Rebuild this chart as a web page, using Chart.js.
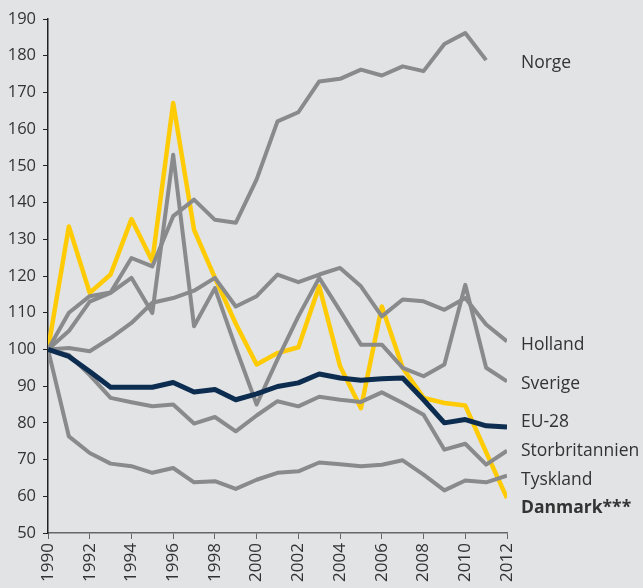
<!DOCTYPE html>
<html>
<head>
<meta charset="utf-8">
<script src="https://cdn.jsdelivr.net/npm/chart.js@4"></script>
<style>
  html, body { margin: 0; padding: 0; background: #e1e3e5; }
  #wrap { width: 643px; height: 588px; }
</style>
</head>
<body>
<div id="wrap"><canvas id="chart" width="643" height="588"></canvas></div>
<script>
const years = [1990, 1991, 1992, 1993, 1994, 1995, 1996, 1997, 1998, 1999, 2000, 2001,
               2002, 2003, 2004, 2005, 2006, 2007, 2008, 2009, 2010, 2011, 2012];

const norge = [100, 110, 114.5, 115.5, 124.9, 122.6, 136.3, 140.8, 135.3, 134.5, 146.3, 162.1,
               164.6, 173, 173.7, 176.2, 174.6, 177.1, 175.8, 183.2, 186.2, 178.8];
const holland = [100, 100.4, 99.5, 103.1, 107.2, 112.7, 114, 116, 119.5, 111.7, 114.5, 120.4,
                 118.3, 120.4, 122.2, 117.2, 109, 113.6, 113.1, 110.8, 114, 106.8, 102.2];
const sverige = [100, 105, 113, 115.4, 119.5, 109.9, 153, 106.3, 116.7, 100.5, 85, 97.3,
                 109, 119.5, 110.5, 101.3, 101.3, 95, 92.7, 95.9, 117.6, 95, 91.3];
const eu28 = [100, 98.1, 94, 89.7, 89.7, 89.7, 91, 88.4, 89.1, 86.3, 87.9, 89.9,
              90.9, 93.3, 92.2, 91.6, 92, 92.2, 86.3, 80, 80.9, 79.2, 78.9];
const storbritannien = [100, 98.5, 93, 86.8, 85.6, 84.5, 85, 79.8, 81.6, 77.7, 82, 85.9,
                        84.5, 87.1, 86.3, 85.7, 88.3, 85.4, 82.2, 72.7, 74.3, 68.6, 72.4];
const tyskland = [100, 76.3, 71.8, 68.9, 68.2, 66.4, 67.7, 63.8, 64.1, 62, 64.5, 66.4,
                  66.8, 69.2, 68.7, 68.2, 68.6, 69.8, 65.9, 61.6, 64.3, 63.8, 65.6];
const danmark = [100, 133.5, 115.4, 120.4, 135.5, 124, 167.1, 132.6, 119.5, 107, 95.9, 99,
                 100.6, 117.2, 95.4, 84, 111.7, 95, 86.8, 85.4, 84.7, 72, 59.5];

// right-hand labels and the value where each sits on the y axis
const seriesLabels = ['Norge', 'Holland', 'Sverige', 'EU-28', 'Storbritannien', 'Tyskland', 'Danmark***'];
const labelValues = [178.1, 101.3, 90.7, 80.3, 72.2, 64.5, 56.9];

const GREY = '#898a8c';
const YELLOW = '#ffcb05';
const NAVY = '#0c2d50';
const FONT = '"Open Sans", "Noto Sans", sans-serif';

function points(vals) {
    return vals.map((v, i) => ({ x: years[i], y: v }));
}

function line(label, vals, color, width, order) {
    return {
        label: label,
        data: points(vals),
        borderColor: color,
        backgroundColor: color,
        borderWidth: width,
        borderJoinStyle: 'round',
        pointRadius: 0,
        tension: 0,
        fill: false,
        order: order
    };
}

const bgPlugin = {
    id: 'bg',
    beforeDraw(chart) {
        const c = chart.ctx;
        c.save();
        c.fillStyle = '#e1e3e5';
        c.fillRect(0, 0, chart.width, chart.height);
        c.restore();
    }
};

const labelPlugin = {
    id: 'endLabels',
    afterDatasetsDraw(chart) {
        const c = chart.ctx;
        const yScale = chart.scales.y;
        const x = chart.chartArea.right + 14;
        c.save();
        c.textBaseline = 'middle';
        c.textAlign = 'left';
        c.fillStyle = '#333';
        seriesLabels.forEach((txt, i) => {
            const bold = txt.startsWith('Danmark');
            c.font = (bold ? 'bold ' : '') + '17.5px ' + FONT;
            c.fillText(txt, x, yScale.getPixelForValue(labelValues[i]));
        });
        c.restore();
    }
};

new Chart(document.getElementById('chart').getContext('2d'), {
    type: 'line',
    data: {
        datasets: [
            line('Norge', norge, GREY, 4, 1),
            line('Holland', holland, GREY, 4, 1),
            line('Sverige', sverige, GREY, 4, 1),
            line('Storbritannien', storbritannien, GREY, 4, 1),
            line('Tyskland', tyskland, GREY, 4, 1),
            line('Danmark', danmark, YELLOW, 4.5, 2),
            line('EU-28', eu28, NAVY, 5, 0)
        ]
    },
    options: {
        responsive: false,
        animation: false,
        layout: { padding: { top: 19, right: 136, left: 0, bottom: 0 } },
        plugins: {
            legend: { display: false },
            tooltip: { enabled: false }
        },
        scales: {
            x: {
                type: 'linear',
                min: 1990,
                max: 2012,
                afterFit(scale) { scale.height = 55; },
                ticks: {
                    stepSize: 2,
                    minRotation: 90,
                    maxRotation: 90,
                    padding: 4,
                    color: '#333',
                    font: { family: FONT, size: 17 },
                    callback: v => String(v)
                },
                grid: { drawOnChartArea: false, drawTicks: true, tickLength: 6, color: '#666' },
                border: { display: true, color: '#666', width: 1.5 }
            },
            y: {
                min: 50,
                max: 190,
                afterFit(scale) { scale.width = 48; },
                ticks: {
                    stepSize: 10,
                    padding: 7,
                    color: '#333',
                    font: { family: FONT, size: 16.5 }
                },
                grid: { drawOnChartArea: false, drawTicks: true, tickLength: 5, color: '#222' },
                border: { display: true, color: '#222', width: 1.5 }
            }
        }
    },
    plugins: [bgPlugin, labelPlugin]
});
</script>
</body>
</html>
